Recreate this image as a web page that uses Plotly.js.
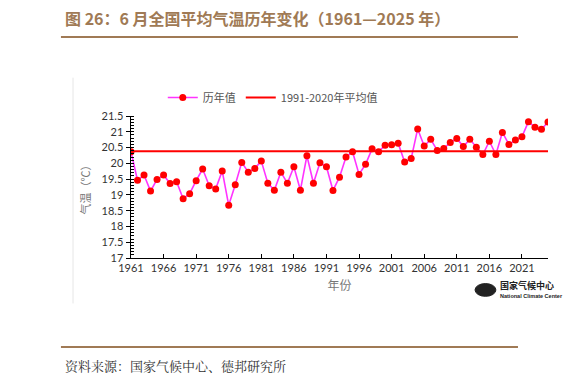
<!DOCTYPE html>
<html><head><meta charset="utf-8">
<script src="https://cdn.plot.ly/plotly-3.0.1.min.js"></script>
<style>html,body{margin:0;padding:0;background:#fff}#c{width:582px;height:385px}</style>
</head><body><div id="c"></div>
<script>
const years = [];
for (let y = 1961; y <= 2025; y++) years.push(y);
const temps = [20.37,19.46,19.63,19.12,19.49,19.63,19.36,19.42,18.88,19.04,
  19.45,19.82,19.29,19.19,19.76,18.67,19.32,20.03,19.72,19.84,
  20.07,19.37,19.15,19.72,19.37,19.89,19.15,20.24,19.37,20.02,
  19.89,19.14,19.56,20.20,20.37,19.65,19.97,20.46,20.37,20.57,
  20.59,20.64,20.04,20.15,21.09,20.55,20.76,20.41,20.47,20.66,
  20.79,20.53,20.76,20.51,20.28,20.70,20.28,20.98,20.60,20.74,
  20.84,21.32,21.14,21.08,21.31];
const avgValue = 20.38;
const avgLine = years.map(() => avgValue);
const xTicks = [1961,1966,1971,1976,1981,1986,1991,1996,2001,2006,2011,2016,2021];
const yTicks = [17,17.5,18,18.5,19,19.5,20,20.5,21,21.5];
const yTickText = ['17','17.5','18','18.5','19','19.5','20','20.5','21','21.5'];

const cjk = '"Noto Sans CJK SC", sans-serif';
const brown = '#a07a55';

const traces = [
  {x: years, y: temps, name: '历年值', type: 'scatter', mode: 'lines+markers',
   line: {color: '#ff33ff', width: 1.6}, marker: {color: '#ff0000', size: 7}},
  {x: years, y: avgLine, name: '1991-2020年平均值', type: 'scatter', mode: 'lines',
   line: {color: '#ff0000', width: 2}}
];

const layout = {
  width: 582, height: 385,
  margin: {l: 131, r: 34, t: 116, b: 127},
  paper_bgcolor: '#fff', plot_bgcolor: '#fff',
  showlegend: true,
  legend: {orientation: 'h', x: 0.34, xanchor: 'center', y: 1.13, yanchor: 'middle',
    font: {family: cjk, size: 11, color: '#555'}, itemwidth: 30, traceorder: 'normal'},
  xaxis: {range: [1961, 2025], tickvals: xTicks, ticktext: xTicks.map(String),
    showgrid: false, zeroline: false, showline: true, linecolor: '#000', linewidth: 1,
    ticks: 'inside', ticklen: 4, tickcolor: '#000',
    tickfont: {family: 'Lato, sans-serif', size: 11, color: '#333'},
    title: {text: '年份', font: {family: cjk, size: 12, color: '#777'}, standoff: 8}},
  yaxis: {range: [17, 21.5], tickvals: yTicks, ticktext: yTickText,
    showgrid: false, zeroline: false, showline: true, linecolor: '#000', linewidth: 1.5,
    ticks: 'outside', ticklen: 4, tickcolor: '#000',
    minor: {dtick: 0.1, ticks: 'inside', ticklen: 3, tickcolor: '#000', showgrid: false},
    tickfont: {family: 'Lato, sans-serif', size: 11, color: '#333'},
    title: {text: '气温（℃）', font: {family: cjk, size: 11, color: '#777'}, standoff: 8}},
  shapes: [
    {type: 'line', xref: 'paper', yref: 'paper', x0: -0.168, x1: 0.928, y0: 1.556, y1: 1.556,
     line: {color: brown, width: 2}},
    {type: 'line', xref: 'paper', yref: 'paper', x0: -0.168, x1: 0.928, y0: -0.627, y1: -0.627,
     line: {color: brown, width: 2}},
    {type: 'line', xref: 'paper', yref: 'paper', x0: -0.139, x1: -0.139, y0: -0.32, y1: 1.27,
     line: {color: '#e6e6e6', width: 1}},
    {type: 'circle', xref: 'paper', yref: 'paper', x0: 0.825, x1: 0.875, y0: -0.27, y1: -0.18,
     fillcolor: '#222', line: {color: '#222', width: 1}}
  ],
  annotations: [
    {xref: 'paper', yref: 'paper', x: -0.163, y: 1.69, xanchor: 'left', yanchor: 'middle',
     showarrow: false, text: '<b>图 26：6 月全国平均气温历年变化（1961—2025 年）</b>',
     font: {family: cjk, size: 16, color: brown}},
    {xref: 'paper', yref: 'paper', x: -0.163, y: -0.76, xanchor: 'left', yanchor: 'middle',
     showarrow: false, text: '资料来源：国家气候中心、德邦研究所',
     font: {family: '"Noto Serif CJK SC", ' + cjk, size: 13, color: '#333'}},
    {xref: 'paper', yref: 'paper', x: 0.88, y: -0.195, xanchor: 'left', yanchor: 'middle',
     showarrow: false, text: '<b>国家气候中心</b>',
     font: {family: cjk, size: 9, color: '#222'}},
    {xref: 'paper', yref: 'paper', x: 0.88, y: -0.27, xanchor: 'left', yanchor: 'middle',
     showarrow: false, text: '<b>National Climate Center</b>',
     font: {family: 'Liberation Sans, sans-serif', size: 5.5, color: '#222'}}
  ]
};

Plotly.newPlot('c', traces, layout, {displayModeBar: false, staticPlot: true});
</script>
</body></html>
